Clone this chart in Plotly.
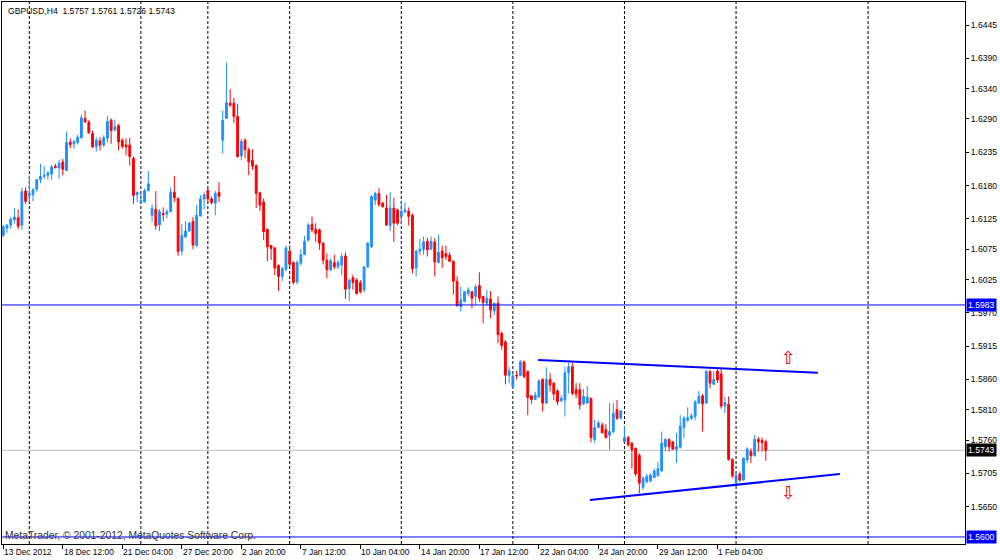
import plotly.graph_objects as go

# ---- data (GBPUSD, H4) ----
opens = [1.6098,1.6110,1.6115,1.6124,1.6127,1.6115,1.6171,1.6164,1.6165,1.6174,
1.6190,1.6195,1.6197,1.6199,1.6212,1.6209,1.6219,1.6205,1.6252,1.6249,
1.6251,1.6259,1.6291,1.6285,1.6266,1.6244,1.6254,1.6247,1.6258,1.6288,
1.6272,1.6279,1.6255,1.6247,1.6247,1.6225,1.6165,1.6152,1.6153,1.6172,
1.6131,1.6141,1.6115,1.6134,1.6133,1.6137,1.6169,1.6159,1.6072,1.6095,
1.6105,1.6121,1.6081,1.6130,1.6158,1.6172,1.6158,1.6151,1.6169,1.6255,
1.6291,1.6316,1.6316,1.6294,1.6229,1.6255,1.6239,1.6222,1.6213,1.6168,
1.6153,1.6108,1.6081,1.6077,1.6048,1.6030,1.6042,1.6072,1.6053,1.6021,
1.6052,1.6066,1.6090,1.6116,1.6108,1.6107,1.6085,1.6057,1.6041,1.6053,
1.6046,1.6049,1.6064,1.6010,1.6028,1.6024,1.6020,1.6008,1.6046,1.6079,
1.6156,1.6167,1.6151,1.6143,1.6114,1.6143,1.6140,1.6129,1.6137,1.6138,
1.6131,1.6044,1.6072,1.6075,1.6088,1.6075,1.6087,1.6053,1.6072,1.6068,
1.6065,1.6055,1.6022,1.5980,1.5989,1.6002,1.6005,1.5997,1.6015,1.5997,
1.5986,1.5993,1.5973,1.5986,1.5936,1.5922,1.5867,1.5848,1.5867,1.5867,
1.5889,1.5873,1.5833,1.5827,1.5831,1.5860,1.5821,1.5860,1.5854,1.5841,
1.5825,1.5826,1.5871,1.5881,1.5844,1.5843,1.5820,1.5821,1.5829,1.5761,
1.5781,1.5785,1.5777,1.5768,1.5774,1.5810,1.5796,1.5757,1.5764,1.5755,
1.5746,1.5735,1.5682,1.5691,1.5693,1.5698,1.5701,1.5709,1.5749,1.5761,
1.5757,1.5745,1.5748,1.5781,1.5793,1.5796,1.5799,1.5821,1.5833,1.5821,
1.5873,1.5852,1.5874,1.5869,1.5816,1.5819,1.5728,1.5691,1.5704,1.5694,
1.5727,1.5741,1.5734,1.5761,1.5759,1.5757]
highs = [1.6115,1.6116,1.6128,1.6143,1.6141,1.6176,1.6177,1.6197,1.6176,1.6191,
1.6216,1.6212,1.6204,1.6214,1.6216,1.6222,1.6224,1.6269,1.6258,1.6255,
1.6264,1.6297,1.6304,1.6288,1.6271,1.6260,1.6260,1.6263,1.6295,1.6291,
1.6289,1.6282,1.6258,1.6258,1.6259,1.6228,1.6170,1.6167,1.6175,1.6204,
1.6149,1.6171,1.6141,1.6144,1.6141,1.6177,1.6196,1.6160,1.6117,1.6121,
1.6121,1.6128,1.6148,1.6164,1.6169,1.6176,1.6162,1.6171,1.6186,1.6304,
1.6383,1.6339,1.6325,1.6315,1.6257,1.6258,1.6243,1.6240,1.6215,1.6170,
1.6159,1.6109,1.6082,1.6079,1.6050,1.6046,1.6081,1.6081,1.6055,1.6057,
1.6075,1.6097,1.6118,1.6129,1.6118,1.6109,1.6087,1.6068,1.6060,1.6066,
1.6057,1.6068,1.6070,1.6026,1.6033,1.6027,1.6024,1.6046,1.6087,1.6164,
1.6170,1.6176,1.6153,1.6165,1.6169,1.6160,1.6142,1.6153,1.6152,1.6144,
1.6134,1.6073,1.6092,1.6096,1.6094,1.6096,1.6093,1.6099,1.6081,1.6081,
1.6070,1.6057,1.6030,1.6013,1.6006,1.6012,1.6006,1.6017,1.6037,1.5998,
1.6008,1.6006,1.5987,1.5997,1.5939,1.5925,1.5881,1.5870,1.5874,1.5892,
1.5891,1.5875,1.5834,1.5840,1.5860,1.5862,1.5880,1.5871,1.5855,1.5844,
1.5834,1.5881,1.5888,1.5888,1.5854,1.5854,1.5844,1.5849,1.5830,1.5793,
1.5792,1.5789,1.5786,1.5821,1.5821,1.5826,1.5810,1.5783,1.5767,1.5757,
1.5748,1.5738,1.5700,1.5704,1.5705,1.5713,1.5724,1.5774,1.5763,1.5763,
1.5758,1.5772,1.5801,1.5800,1.5814,1.5804,1.5826,1.5841,1.5836,1.5876,
1.5876,1.5874,1.5877,1.5878,1.5832,1.5832,1.5730,1.5705,1.5708,1.5731,
1.5748,1.5746,1.5768,1.5765,1.5764,1.5761]
lows = [1.6095,1.6102,1.6109,1.6117,1.6108,1.6107,1.6150,1.6154,1.6154,1.6170,
1.6184,1.6191,1.6190,1.6190,1.6208,1.6191,1.6197,1.6205,1.6242,1.6241,
1.6248,1.6258,1.6284,1.6266,1.6242,1.6236,1.6238,1.6244,1.6251,1.6249,
1.6270,1.6238,1.6241,1.6230,1.6213,1.6150,1.6153,1.6151,1.6152,1.6170,
1.6120,1.6107,1.6105,1.6121,1.6126,1.6137,1.6153,1.6064,1.6065,1.6094,
1.6104,1.6075,1.6079,1.6129,1.6141,1.6151,1.6149,1.6131,1.6153,1.6233,
1.6291,1.6310,1.6283,1.6226,1.6222,1.6225,1.6197,1.6206,1.6143,1.6138,
1.6090,1.6055,1.6057,1.6032,1.6006,1.6022,1.6038,1.6046,1.6017,1.6017,
1.6048,1.6066,1.6088,1.6103,1.6087,1.6074,1.6050,1.6027,1.6039,1.6042,
1.6042,1.6032,1.5993,1.5989,1.6008,1.6000,1.6002,1.6004,1.6044,1.6077,
1.6148,1.6145,1.6144,1.6114,1.6105,1.6087,1.6115,1.6116,1.6134,1.6114,
1.6035,1.6030,1.6065,1.6066,1.6063,1.6074,1.6030,1.6052,1.6044,1.6057,
1.6054,1.6000,1.5980,1.5972,1.5987,1.5997,1.5977,1.5983,1.5988,1.5953,
1.5982,1.5961,1.5966,1.5920,1.5909,1.5852,1.5854,1.5846,1.5860,1.5865,
1.5862,1.5801,1.5820,1.5826,1.5830,1.5807,1.5820,1.5840,1.5826,1.5818,
1.5822,1.5799,1.5837,1.5834,1.5829,1.5810,1.5818,1.5820,1.5756,1.5755,
1.5779,1.5771,1.5763,1.5744,1.5771,1.5793,1.5794,1.5756,1.5749,1.5713,
1.5700,1.5672,1.5677,1.5689,1.5690,1.5697,1.5700,1.5708,1.5741,1.5741,
1.5744,1.5722,1.5746,1.5763,1.5790,1.5793,1.5793,1.5820,1.5774,1.5820,
1.5845,1.5851,1.5854,1.5812,1.5804,1.5726,1.5697,1.5687,1.5691,1.5693,
1.5722,1.5722,1.5733,1.5741,1.5741,1.5726]
closes = [1.6112,1.6115,1.6124,1.6128,1.6113,1.6170,1.6154,1.6167,1.6173,1.6190,
1.6195,1.6197,1.6201,1.6211,1.6210,1.6217,1.6207,1.6251,1.6248,1.6253,
1.6260,1.6292,1.6285,1.6267,1.6244,1.6255,1.6247,1.6259,1.6286,1.6271,
1.6277,1.6252,1.6245,1.6244,1.6228,1.6164,1.6169,1.6155,1.6172,1.6183,
1.6142,1.6114,1.6137,1.6132,1.6137,1.6169,1.6160,1.6071,1.6098,1.6105,
1.6118,1.6082,1.6131,1.6158,1.6165,1.6158,1.6152,1.6167,1.6162,1.6288,
1.6317,1.6313,1.6294,1.6228,1.6253,1.6239,1.6219,1.6212,1.6167,1.6148,
1.6104,1.6079,1.6076,1.6044,1.6030,1.6043,1.6077,1.6050,1.6020,1.6053,
1.6066,1.6088,1.6115,1.6107,1.6101,1.6085,1.6057,1.6041,1.6056,1.6046,
1.6053,1.6063,1.6009,1.6024,1.6020,1.6002,1.6005,1.6046,1.6085,1.6162,
1.6167,1.6149,1.6145,1.6115,1.6143,1.6118,1.6118,1.6138,1.6140,1.6129,
1.6043,1.6072,1.6075,1.6087,1.6074,1.6088,1.6054,1.6070,1.6061,1.6063,
1.6055,1.6022,1.5982,1.5991,1.6005,1.6008,1.5994,1.6013,1.5994,1.5987,
1.5994,1.5975,1.5986,1.5934,1.5916,1.5867,1.5874,1.5866,1.5866,1.5889,
1.5865,1.5830,1.5827,1.5834,1.5858,1.5821,1.5860,1.5851,1.5836,1.5823,
1.5829,1.5871,1.5881,1.5837,1.5836,1.5818,1.5832,1.5831,1.5764,1.5781,
1.5788,1.5772,1.5764,1.5774,1.5804,1.5796,1.5808,1.5764,1.5752,1.5744,
1.5704,1.5689,1.5697,1.5700,1.5702,1.5709,1.5713,1.5755,1.5761,1.5749,
1.5745,1.5749,1.5783,1.5796,1.5797,1.5800,1.5823,1.5832,1.5820,1.5873,
1.5854,1.5860,1.5859,1.5816,1.5822,1.5728,1.5701,1.5702,1.5694,1.5730,
1.5745,1.5734,1.5761,1.5757,1.5756,1.5743]

bars = list(range(len(opens)))

time_label_bars = [0, 16, 32, 48, 64, 80, 96, 112, 128, 144, 160, 176, 192]
time_labels = ["13 Dec 2012", "18 Dec 12:00", "21 Dec 04:00", "27 Dec 20:00",
               "2 Jan 20:00", "7 Jan 12:00", "10 Jan 04:00", "14 Jan 20:00",
               "17 Jan 12:00", "22 Jan 04:00", "24 Jan 20:00", "29 Jan 12:00",
               "1 Feb 04:00"]
separator_bars = [7, 37, 55, 77, 107, 137, 167, 197, 232.5]

price_ticks = [1.6445, 1.6390, 1.6340, 1.6290, 1.6235, 1.6180, 1.6125, 1.6075,
               1.6025, 1.5970, 1.5915, 1.5860, 1.5810, 1.5760, 1.5705, 1.5650]

hline_levels = [1.5983, 1.5600]
current_price = 1.5743

upper_trend_x = [143.8, 219.0]
upper_trend_y = [1.5892, 1.5871]
lower_trend_x = [157.7, 224.9]
lower_trend_y = [1.5661, 1.5704]

arrow_up = (211.2, 1.5897)
arrow_down = (211.0, 1.5674)

title_text = "GBPUSD,H4\u00a0\u00a01.5757 1.5761 1.5726 1.5743"
copyright_text = "MetaTrader, \u00a9 2001-2012, MetaQuotes Software Corp."

FONT = "Liberation Sans"
BLUE = "#1E90FF"
RED = "#FF0000"

fig = go.Figure()

fig.add_trace(go.Candlestick(
    x=bars, open=opens, high=highs, low=lows, close=closes,
    increasing=dict(line=dict(color=BLUE, width=1), fillcolor=BLUE),
    decreasing=dict(line=dict(color=RED, width=1), fillcolor=RED),
    whiskerwidth=0, showlegend=False, hoverinfo="skip"))

for tx, ty in ((upper_trend_x, upper_trend_y), (lower_trend_x, lower_trend_y)):
    fig.add_trace(go.Scatter(x=tx, y=ty, mode="lines",
                             line=dict(color="#0000FF", width=2),
                             showlegend=False, hoverinfo="skip"))

shapes = []
for b in separator_bars:
    shapes.append(dict(type="line", xref="x", yref="paper", x0=b, x1=b, y0=0, y1=1,
                       line=dict(color="black", width=1, dash="3px,2px"), layer="below"))
for lv in hline_levels:
    shapes.append(dict(type="line", xref="paper", yref="y", x0=0, x1=1, y0=lv, y1=lv,
                       line=dict(color="#0000FF", width=1), layer="above"))
shapes.append(dict(type="line", xref="paper", yref="y", x0=0, x1=1,
                   y0=current_price, y1=current_price,
                   line=dict(color="#C0C0C0", width=1), layer="below"))

annotations = []
for b, t in zip(time_label_bars, time_labels):
    annotations.append(dict(x=b, y=0, xref="x", yref="paper", text=t, showarrow=False,
                            xanchor="left", yanchor="top", yshift=-1, xshift=-1,
                            font=dict(family=FONT, size=8.4, color="black")))
for lv, bg in ((hline_levels[0], "#0000FF"), (current_price, "black"), (hline_levels[1], "#0000FF")):
    annotations.append(dict(x=1, y=lv, xref="paper", yref="y", text=f"{lv:.4f}",
                            showarrow=False, xanchor="left", yanchor="middle", xshift=1,
                            bgcolor=bg, borderpad=1,
                            font=dict(family=FONT, size=8.6, color="white")))
annotations.append(dict(x=0.004, y=1, xref="paper", yref="paper", text=title_text,
                        showarrow=False, xanchor="left", yanchor="top", yshift=-2,
                        font=dict(family=FONT, size=8.6, color="black")))
annotations.append(dict(x=0.001, y=0.0148, xref="paper", yref="paper", text=copyright_text,
                        showarrow=False, xanchor="left", yanchor="middle",
                        font=dict(family=FONT, size=10.3, color="#333333")))
annotations.append(dict(x=arrow_up[0], y=arrow_up[1], xref="x", yref="y", text="\u21e7",
                        showarrow=False, font=dict(family="DejaVu Sans", size=18, color=RED)))
annotations.append(dict(x=arrow_down[0], y=arrow_down[1], xref="x", yref="y", text="\u21e9",
                        showarrow=False, font=dict(family="DejaVu Sans", size=18, color=RED)))

fig.update_layout(
    width=1000, height=560,
    margin=dict(l=2, r=35, t=2, b=16, autoexpand=False),
    paper_bgcolor="white", plot_bgcolor="white",
    font=dict(family=FONT, size=8.4, color="black"),
    shapes=shapes, annotations=annotations,
    xaxis=dict(range=[-0.34, 258.55], showgrid=False, zeroline=False,
               showline=True, mirror=True, linecolor="black", linewidth=1,
               ticks="outside", ticklen=4, tickcolor="black",
               tickvals=time_label_bars, showticklabels=False,
               rangeslider=dict(visible=False), fixedrange=True),
    yaxis=dict(range=[1.55884, 1.64831], side="right", showgrid=False, zeroline=False,
               showline=True, mirror=True, linecolor="black", linewidth=1,
               ticks="outside", ticklen=3, tickcolor="black",
               tickvals=price_ticks, ticktext=[f"{v:.4f}" for v in price_ticks],
               tickfont=dict(family=FONT, size=8.6, color="black"),
               automargin=False, fixedrange=True),
)

fig.write_html("out.html", config={"displayModeBar": False},
               post_script="document.body.style.margin='0';document.body.style.overflow='hidden';")
